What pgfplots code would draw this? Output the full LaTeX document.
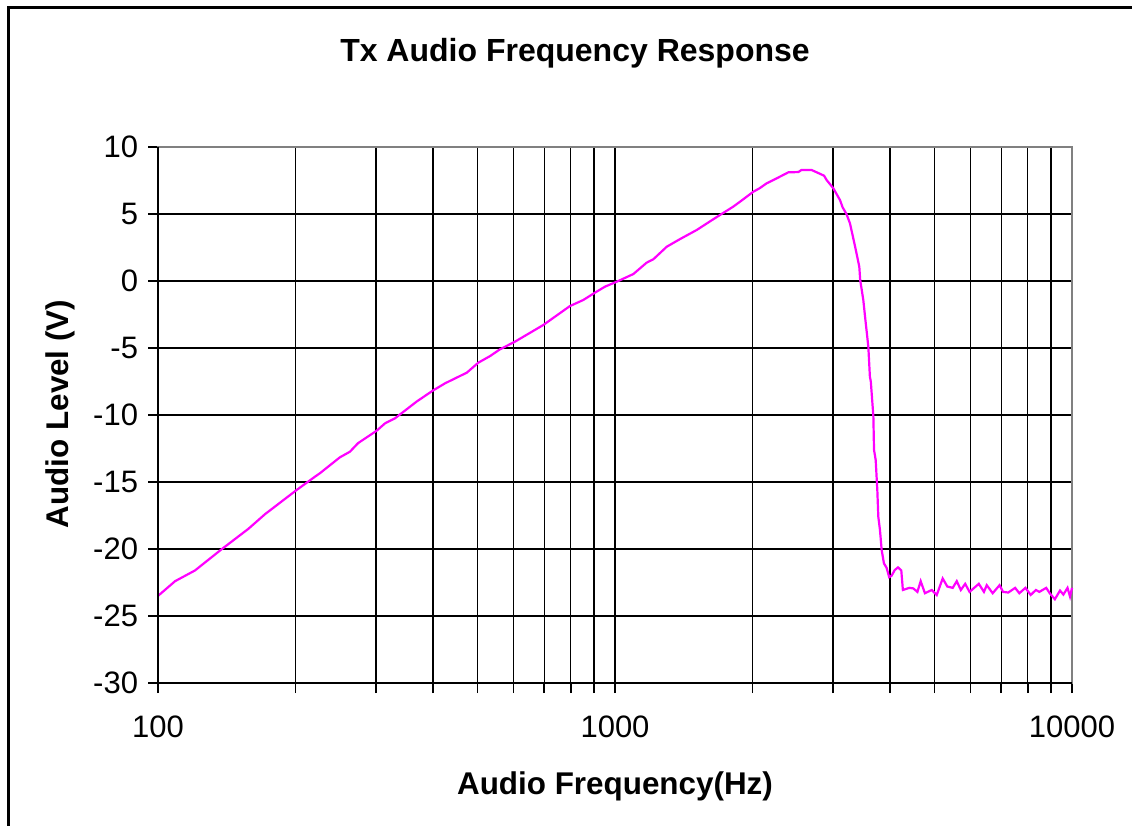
\documentclass[border=0pt]{standalone}
\usepackage{pgfplots}
\pgfplotsset{compat=1.18}
\usepackage{fontspec}
\setmainfont{Liberation Sans}
\definecolor{magline}{RGB}{255,0,255}
\definecolor{bordergray}{RGB}{128,128,128}
\begin{document}
\begin{tikzpicture}
\useasboundingbox (0,0) rectangle (566pt,413pt);
\fill[white] (0,0) rectangle (566pt,413pt);
\begin{scope}
\clip (0,0) rectangle (566pt,413pt);
\draw[line width=1.5pt] (4pt,-20pt) -- (4pt,409pt) -- (600pt,409pt);
\end{scope}
\begin{axis}[
  at={(79pt,71.5pt)}, anchor=south west,
  scale only axis, width=457pt, height=268pt,
  xmode=log, xmin=100, xmax=10000, ymin=-30, ymax=10,
  xtick={100,1000,10000}, xticklabels={100,1000,10000},
  minor xtick={200,300,400,500,600,700,800,900,2000,3000,4000,5000,6000,7000,8000,9000},
  ytick={-30,-25,-20,-15,-10,-5,0,5,10},
  yticklabels={-30,-25,-20,-15,-10,-5,0,5,10},
  xtick pos=bottom, ytick pos=left, tick align=outside,
  major tick length=5pt, minor tick length=5pt,
  tick style={black, line width=0.8pt},
  xmajorgrids, xminorgrids, ymajorgrids,
  major grid style={black, line width=0.7pt},
  minor grid style={black, line width=0.7pt},
  axis line style={bordergray, line width=0.9pt},
  tick label style={font=\fontsize{15.5}{18}\selectfont},
  xticklabel style={yshift=-8pt},
  yticklabel style={xshift=-1.5pt},
  clip=false,
]
\addplot[magline, line width=1.1pt] coordinates {
(100,-23.5) (109,-22.4) (120.5,-21.6) (138,-20.0) (157.6,-18.5) (171.5,-17.4)
(201,-15.6) (220.6,-14.6) (226,-14.35) (250,-13.16) (263,-12.74) (274,-12.1)
(301,-11.17) (314,-10.62) (330,-10.25) (368,-9.0) (399,-8.19) (425,-7.63)
(474,-6.84) (502,-6.1) (533,-5.6) (560,-5.1) (604,-4.53) (697,-3.28)
(797,-1.87) (852,-1.42) (904,-0.87) (951,-0.42) (1009,-0.05) (1097,0.52)
(1173,1.37) (1213,1.62) (1298,2.56) (1388,3.13) (1510,3.81) (1614,4.45)
(1698,4.93) (1815,5.55) (1909,6.1) (2007,6.66) (2072,6.92) (2147,7.29)
(2258,7.66) (2395,8.11) (2518,8.13) (2558,8.28) (2694,8.28) (2763,8.11)
(2867,7.86) (2904,7.54) (3004,6.92) (3107,6.04) (3148,5.5) (3210,5.0)
(3267,4.3) (3351,2.6) (3424,1.07) (3440,0.07) (3494,-1.42) (3525,-2.66)
(3584,-4.9) (3612,-7.14) (3629,-7.5) (3676,-10.1) (3688,-12.6) (3719,-13.36)
(3750,-15.6) (3769,-17.6) (3801,-18.6) (3833,-20.07) (3877,-21.07) (3929,-21.4)
(3981,-22.1) (4028,-22.0) (4094,-21.57) (4162,-21.37) (4231,-21.6) (4265,-23.06)
(4406,-22.9) (4494,-22.94) (4589,-23.2) (4665,-22.4) (4766,-23.3) (4932,-23.06)
(5058,-23.43) (5212,-22.2) (5335,-22.8) (5482,-22.9) (5595,-22.4) (5711,-23.06)
(5838,-22.6) (5967,-23.2) (6253,-22.6) (6417,-23.2) (6508,-22.7) (6706,-23.3)
(6942,-22.7) (7066,-23.2) (7254,-23.25) (7509,-22.9) (7668,-23.3) (7910,-22.9)
(8121,-23.43) (8335,-23.06) (8483,-23.2) (8781,-22.9) (8937,-23.3) (9172,-23.75)
(9414,-23.1) (9575,-23.4) (9776,-22.9) (9900,-23.55) (10000,-22.9)
};
\draw[black, line width=0.9pt] (rel axis cs:0,1) -- (rel axis cs:0,0) -- (rel axis cs:1,0);
\end{axis}
\node[font=\bfseries\fontsize{16}{19}\selectfont] at (287.5pt,386.5pt) {Tx Audio Frequency Response};
\node[font=\bfseries\fontsize{15.7}{19}\selectfont] at (307.5pt,20pt) {Audio Frequency(Hz)};
\node[font=\bfseries\fontsize{15.7}{19}\selectfont, rotate=90] at (30pt,206pt) {Audio Level (V)};
\end{tikzpicture}
\end{document}
